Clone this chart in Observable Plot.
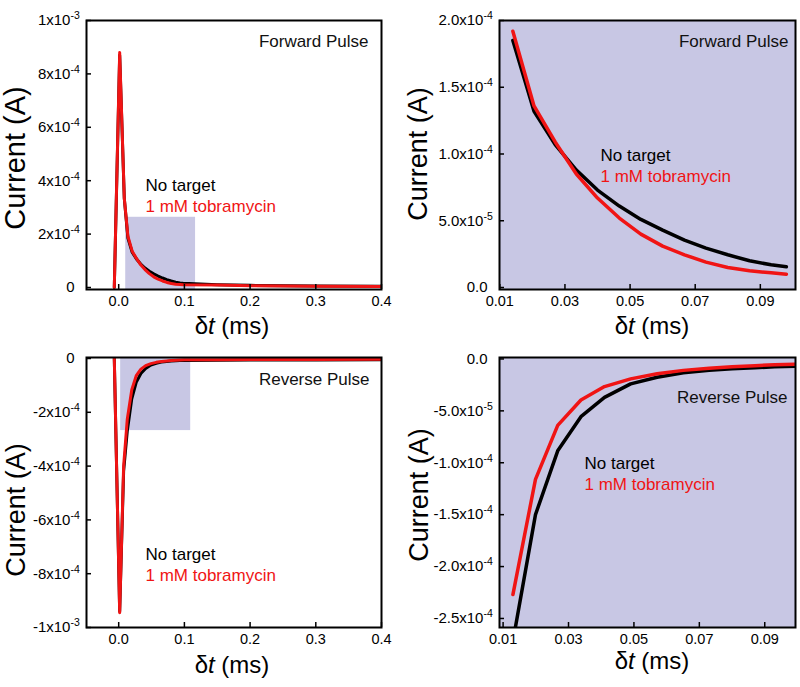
<!DOCTYPE html>
<html>
<head>
<meta charset="utf-8">
<script src="https://cdn.jsdelivr.net/npm/d3@7"></script>
<script src="https://cdn.jsdelivr.net/npm/@observablehq/plot@0.6"></script>
<style>
  body { margin: 0; background: #fff; }
  #chart { position: relative; width: 800px; height: 687px; font-family: "Liberation Sans", Arial, Helvetica, sans-serif; }
  #chart > div { position: absolute; }
</style>
</head>
<body>
<div id="chart"></div>
<script>
// ---------- data ----------
const seriesNames = ["No target", "1 mM tobramycin"];
const seriesColors = ["#000000", "#f01414"];

// Forward pulse: time (ms) and current (A)
const tFwd = [-0.0067, 0.0015, 0.0085, 0.014, 0.0205, 0.027, 0.0335, 0.04, 0.0467, 0.0533, 0.06, 0.0667, 0.0733, 0.08, 0.0867, 0.0933, 0.098, 0.15, 0.2, 0.3, 0.4];
const fwdNoTarget = [0, 8.7e-4, 3.35e-4, 1.85e-4, 1.32e-4, 1.07e-4, 8.8e-5, 7.3e-5, 6.1e-5, 5.1e-5, 4.3e-5, 3.55e-5, 2.95e-5, 2.45e-5, 2.0e-5, 1.7e-5, 1.55e-5, 1.05e-5, 8e-6, 5.5e-6, 4.5e-6];
const fwdTobra    = [0, 8.8e-4, 3.35e-4, 1.92e-4, 1.36e-4, 1.09e-4, 8.5e-5, 6.7e-5, 5.2e-5, 4.0e-5, 3.1e-5, 2.45e-5, 1.9e-5, 1.5e-5, 1.25e-5, 1.1e-5, 1.0e-5, 9e-6, 7e-6, 5e-6, 4e-6];

// Reverse pulse
const tRev = [-0.0067, 0.0015, 0.0075, 0.013, 0.0199, 0.0267, 0.0338, 0.041, 0.049, 0.0571, 0.0651, 0.073, 0.08, 0.087, 0.093, 0.1, 0.15, 0.2, 0.3, 0.4];
const revNoTarget = [0, -9.4e-4, -4.2e-4, -2.72e-4, -1.50e-4, -8.85e-5, -5.56e-5, -3.7e-5, -2.4e-5, -1.76e-5, -1.34e-5, -1.1e-5, -9.5e-6, -8.5e-6, -7.5e-6, -7e-6, -6.5e-6, -6e-6, -5.5e-6, -5e-6];
const revTobra    = [0, -9.45e-4, -4.0e-4, -2.27e-4, -1.16e-4, -6.4e-5, -3.95e-5, -2.66e-5, -1.92e-5, -1.43e-5, -1.1e-5, -9e-6, -7.5e-6, -6.5e-6, -5.5e-6, -5e-6, -4.5e-6, -4e-6, -3.5e-6, -3e-6];

// Highlighted (zoomed) regions in the overview panels
const fwdZoomRegion = [{x1: 0.0107, x2: 0.117, y1: -7.5e-6, y2: 2.63e-4}];
const revZoomRegion = [{x1: 0.003, x2: 0.1096, y1: -2.68e-4, y2: 3.7e-6}];

// Ticks
const xTicksWide = [0, 0.1, 0.2, 0.3, 0.4];
const xLabelsWide = ["0.0", "0.1", "0.2", "0.3", "0.4"];
const xTicksZoom = [0.01, 0.03, 0.05, 0.07, 0.09];
const xLabelsZoom = ["0.01", "0.03", "0.05", "0.07", "0.09"];
const yTicksFwdWide = [0, 2e-4, 4e-4, 6e-4, 8e-4, 1e-3];
const yLabelsFwdWide = ["0", "2x10^-4", "4x10^-4", "6x10^-4", "8x10^-4", "1x10^-3"];
const yTicksFwdZoom = [0, 5e-5, 1e-4, 1.5e-4, 2e-4];
const yLabelsFwdZoom = ["0.0", "5.0x10^-5", "1.0x10^-4", "1.5x10^-4", "2.0x10^-4"];
const yTicksRevWide = [0, -2e-4, -4e-4, -6e-4, -8e-4, -1e-3];
const yLabelsRevWide = ["0", "-2x10^-4", "-4x10^-4", "-6x10^-4", "-8x10^-4", "-1x10^-3"];
const yTicksRevZoom = [0, -5e-5, -1e-4, -1.5e-4, -2e-4, -2.5e-4];
const yLabelsRevZoom = ["0.0", "-5.0x10^-5", "-1.0x10^-4", "-1.5x10^-4", "-2.0x10^-4", "-2.5x10^-4"];

// ---------- build ----------
const shadeColor = "#c8c7e4";
const fontFamily = '"Liberation Sans", Arial, Helvetica, sans-serif';

function toRows(t, a, b) {
  return t.flatMap((ti, i) => [
    {t: ti, v: a[i], s: seriesNames[0]},
    {t: ti, v: b[i], s: seriesNames[1]}
  ]);
}
const fwdRows = toRows(tFwd, fwdNoTarget, fwdTobra);
const revRows = toRows(tRev, revNoTarget, revTobra);
const inZoom = d => d.t >= 0.012 && d.t <= 0.1;

const root = document.getElementById("chart");

function panel(cfg) {
  const fmtY = d => cfg.yLabels[cfg.yTicks.indexOf(d)];
  const fmtX = d => cfg.xLabels[cfg.xTicks.indexOf(d)];
  const marks = [];
  if (cfg.fullShade) marks.push(Plot.frame({fill: shadeColor}));
  if (cfg.region) marks.push(Plot.rect(cfg.region, {x1: "x1", x2: "x2", y1: "y1", y2: "y2", fill: shadeColor}));
  marks.push(Plot.line(cfg.rows, {x: "t", y: "v", z: "s", stroke: "s", strokeWidth: cfg.lw, clip: true, filter: cfg.filter}));
  marks.push(Plot.axisX({ticks: cfg.xTicks, tickFormat: fmtX, tickSize: -5, tickPadding: 11, strokeWidth: 1.5, fontSize: 14.5}));
  marks.push(Plot.axisY({ticks: cfg.yTicks, tickFormat: fmtY, tickSize: -5, tickPadding: 17, strokeWidth: 1.5, fontSize: 15}));
  marks.push(Plot.frame({stroke: "#000", strokeWidth: 2}));
  marks.push(Plot.text([cfg.pulse], {frameAnchor: "top-right", textAnchor: "end", dx: cfg.pulsePos[0], dy: cfg.pulsePos[1], fontSize: 17, fill: "#111"}));
  marks.push(Plot.text([seriesNames[0]], {frameAnchor: "top-left", textAnchor: "start", dx: cfg.legendPos[0], dy: cfg.legendPos[1], fontSize: 17, fill: seriesColors[0]}));
  marks.push(Plot.text([seriesNames[1]], {frameAnchor: "top-left", textAnchor: "start", dx: cfg.legendPos[0], dy: cfg.legendPos[1] + 21, fontSize: 17, fill: seriesColors[1]}));

  const svg = Plot.plot({
    width: cfg.width, height: cfg.height,
    marginTop: cfg.m[0], marginRight: cfg.m[1], marginBottom: cfg.m[2], marginLeft: cfg.m[3],
    style: {fontFamily, fontSize: "14px", background: "transparent", color: "#000", overflow: "visible"},
    x: {domain: cfg.xDomain, label: null},
    y: {domain: cfg.yDomain, label: null},
    color: {type: "ordinal", domain: seriesNames, range: seriesColors},
    marks
  });
  const holder = document.createElement("div");
  holder.style.left = cfg.left + "px";
  holder.style.top = cfg.top + "px";
  holder.appendChild(svg);
  root.appendChild(holder);

  const g = d3.select(svg);
  // superscript exponents in y tick labels
  g.selectAll('g[aria-label="y-axis tick label"] text').each(function () {
    const s = this.textContent;
    const k = s.indexOf("^");
    if (k < 0) return;
    const base = s.slice(0, k), exp = s.slice(k + 1);
    this.textContent = "";
    const t = d3.select(this);
    t.append("tspan").text(base);
    const sup = t.append("tspan").attr("dy", "-6").attr("font-size", "10.5px").text(exp);
    const w = sup.node().getComputedTextLength();
    const tr = this.getAttribute("transform") || "";
    this.setAttribute("transform", `translate(${(w - 4).toFixed(1)},0) ${tr}`);
  });
  // axis titles
  const xl = g.append("text")
    .attr("x", cfg.xTitle[0]).attr("y", cfg.xTitle[1])
    .attr("text-anchor", "middle").attr("font-size", 24).attr("fill", "#000");
  xl.append("tspan").text("δ");
  xl.append("tspan").attr("font-style", "italic").text("t");
  xl.append("tspan").text(" (ms)");
  g.append("text")
    .attr("transform", `translate(${cfg.yTitle[0]},${cfg.yTitle[1]}) rotate(-90)`)
    .attr("text-anchor", "middle").attr("font-size", cfg.yTitle[2]).attr("fill", "#000")
    .text("Current (A)");
}

panel({
  left: 0, top: 0, width: 400, height: 340, m: [20, 19, 51, 86],
  rows: fwdRows, lw: 3, region: fwdZoomRegion,
  xDomain: [-0.049, 0.4], yDomain: [-7.5e-6, 1e-3],
  xTicks: xTicksWide, xLabels: xLabelsWide, yTicks: yTicksFwdWide, yLabels: yLabelsFwdWide,
  pulse: "Forward Pulse", pulsePos: [-13, 14], legendPos: [59, 158],
  xTitle: [232, 334], yTitle: [25, 158, 29]
});
panel({
  left: 400, top: 0, width: 400, height: 340, m: [20, 5, 51, 99],
  rows: fwdRows, lw: 3.5, fullShade: true, filter: inZoom,
  xDomain: [0.0099, 0.1008], yDomain: [-1.5e-6, 2e-4],
  xTicks: xTicksZoom, xLabels: xLabelsZoom, yTicks: yTicksFwdZoom, yLabels: yLabelsFwdZoom,
  pulse: "Forward Pulse", pulsePos: [-7, 14], legendPos: [101, 128],
  xTitle: [252, 334], yTitle: [27, 154, 27]
});
panel({
  left: 0, top: 340, width: 400, height: 347, m: [17, 19, 60, 86],
  rows: revRows, lw: 3, region: revZoomRegion,
  xDomain: [-0.049, 0.4], yDomain: [-1e-3, 3.7e-6],
  xTicks: xTicksWide, xLabels: xLabelsWide, yTicks: yTicksRevWide, yLabels: yLabelsRevWide,
  pulse: "Reverse Pulse", pulsePos: [-12, 15], legendPos: [59, 190],
  xTitle: [232, 333], yTitle: [25, 170, 27]
});
panel({
  left: 400, top: 340, width: 400, height: 347, m: [17, 5, 60, 99],
  rows: revRows, lw: 3.5, fullShade: true, filter: inZoom,
  xDomain: [0.0089, 0.0994], yDomain: [-2.587e-4, 1.4e-6],
  xTicks: xTicksZoom, xLabels: xLabelsZoom, yTicks: yTicksRevZoom, yLabels: yLabelsRevZoom,
  pulse: "Reverse Pulse", pulsePos: [-8, 33], legendPos: [85, 99],
  xTitle: [252, 329], yTitle: [28, 155, 27]
});
</script>
</body>
</html>
